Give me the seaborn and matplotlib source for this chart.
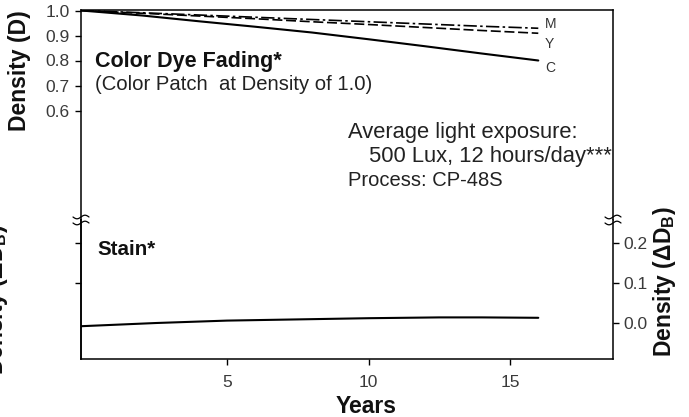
import numpy as np
import pandas as pd
import matplotlib.pyplot as plt
import seaborn as sns
from matplotlib.lines import Line2D

# dye fading (density D); lines start at the left frame
years = [-0.15, 2, 4, 6, 8, 10, 12, 14, 16]
cyan = [1.0, 0.980, 0.957, 0.935, 0.912, 0.885, 0.857, 0.828, 0.800]
magenta = [1.0, 0.991, 0.982, 0.973, 0.964, 0.955, 0.946, 0.937, 0.929]
yellow = [1.0, 0.989, 0.978, 0.967, 0.955, 0.944, 0.932, 0.920, 0.909]

# stain (delta D_B)
stain_years = [-0.15, 2.5, 5, 7.5, 10, 12.5, 14, 16]
stain = [-0.008, 0.000, 0.006, 0.009, 0.012, 0.014, 0.014, 0.013]

dye_ticks = [0.6, 0.7, 0.8, 0.9, 1.0]
stain_ticks = [0.0, 0.1, 0.2]
year_ticks = [5, 10, 15]

W, H = 689, 417

sns.set_theme(style="ticks")
plt.rcParams['font.family'] = ['Liberation Sans', 'DejaVu Sans']
plt.rcParams['mathtext.default'] = 'regular'
plt.rcParams['axes.linewidth'] = 1.1


def px(x, y):
    return x / W, 1 - y / H


fig = plt.figure(figsize=(W / 100, H / 100), dpi=100)
left, right = 81, 613
top, brk, bottom = 10, 220, 359
ax1 = fig.add_axes([left / W, 1 - brk / H, (right - left) / W, (brk - top) / H])
ax2 = fig.add_axes([left / W, 1 - bottom / H, (right - left) / W, (bottom - brk) / H])

sns.lineplot(x=years, y=cyan, ax=ax1, color='black', lw=1.5)
sns.lineplot(x=years, y=yellow, ax=ax1, color='black', lw=1.2, linestyle=(0, (6, 2.2)))
sns.lineplot(x=years, y=magenta, ax=ax1, color='black', lw=1.2, linestyle=(0, (8, 2, 1.5, 2)))
sns.lineplot(x=stain_years, y=stain, ax=ax2, color='black', lw=1.5)

xlim = (-0.16, 18.64)
for ax in (ax1, ax2):
    ax.set_xlim(*xlim)
    ax.set_xlabel('')
    ax.set_ylabel('')
    for s in ax.spines.values():
        s.set_color('black')
    ax.tick_params(direction='out', length=4.3, width=1.0, color='black',
                   labelsize=12.5, labelcolor='#3a3a3a')

ax1.set_ylim(0.162, 1.002)
ax1.set_yticks(dye_ticks)
ax1.set_yticklabels([f'{v:.1f}' for v in dye_ticks])
ax1.tick_params(axis='y', pad=4)
ax1.set_xticks([])
ax1.spines['bottom'].set_visible(False)

ax2.set_ylim(-0.09, 0.2575)
ax2.set_xticks(year_ticks)
ax2.tick_params(axis='x', pad=7)
ax2.yaxis.tick_right()
ax2.set_yticks(stain_ticks)
ax2.set_yticklabels([f'{v:.1f}' for v in stain_ticks])
ax2.spines['top'].set_visible(False)
sec = ax2.secondary_yaxis('left')
sec.set_yticks([0.1, 0.2])
sec.set_yticklabels([])
sec.tick_params(direction='out', length=4.3, width=1.0, color='black')
sec.spines['left'].set_color('black')

# axis break marks
t = np.linspace(0, 1, 40)
for xp in (left, right):
    for dy in (-3, 3):
        xs = xp - 8 + 16 * t
        ys = brk + dy + 1.8 * np.sin(2 * np.pi * t)
        fig.add_artist(Line2D(xs / W, 1 - ys / H, transform=fig.transFigure,
                              color='black', lw=0.9))

dark = '#222222'
fig.text(*px(95, 67), 'Color Dye Fading*', fontsize=15.5, fontweight='bold',
         color='#111111', va='baseline')
fig.text(*px(95, 90), '(Color Patch  at Density of 1.0)', fontsize=14.6,
         color=dark, va='baseline')
fig.text(*px(348, 138), 'Average light exposure:', fontsize=15.8,
         color=dark, va='baseline')
fig.text(*px(369, 162), '500 Lux, 12 hours/day***', fontsize=15.8,
         color=dark, va='baseline')
fig.text(*px(348, 186), 'Process: CP-48S', fontsize=14.5,
         color=dark, va='baseline')
fig.text(*px(97, 255), 'Stain*', fontsize=14.8, fontweight='bold',
         color='#111111', va='baseline')

for lab, yb in (('M', 28), ('Y', 48), ('C', 72)):
    fig.text(*px(545, yb), lab, fontsize=10, color='#333333', va='baseline')

fig.text(*px(366, 413), 'Years', fontsize=16.5, fontweight='bold',
         color='#111111', ha='center', va='baseline')
fig.text(*px(20, 71), 'Density (D)', fontsize=16.5, fontweight='bold',
         color='#111111', rotation=90, ha='center', va='center')
fig.text(*px(665, 282), 'Density (ΔD$_{B}$)', fontsize=16.5, fontweight='bold',
         color='#111111', rotation=90, ha='center', va='center')
fig.text(*px(-3.5, 300), 'Density (ΔD$_{B}$)', fontsize=16.5, fontweight='bold',
         color='#111111', rotation=90, ha='center', va='center')

plt.savefig('out.png', dpi=100)
